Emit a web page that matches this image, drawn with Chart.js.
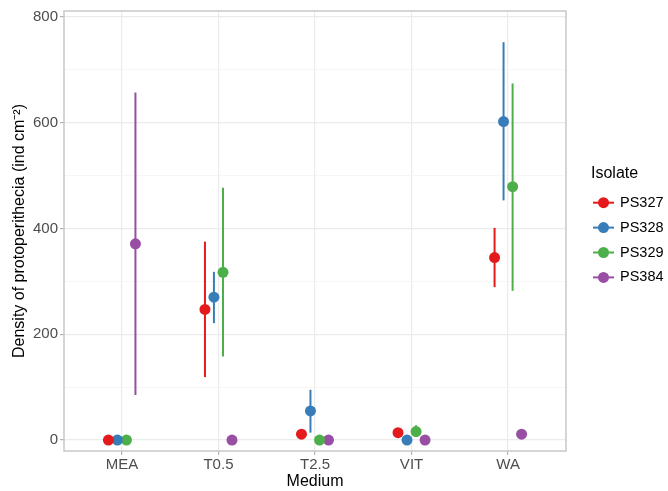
<!DOCTYPE html>
<html lang="en">
<head>
    <meta charset="UTF-8">
    <title>Protoperithecia density</title>
    <script src="https://cdn.jsdelivr.net/npm/chart.js@4.4.1/dist/chart.umd.min.js"></script>
    <style>
        html, body { margin: 0; padding: 0; background: #ffffff; }
        #wrap { width: 668px; height: 491px; }
    </style>
</head>
<body>
    <div id="wrap"><canvas id="densityChart" width="668" height="491"></canvas></div>

    <script>
        // categories on the x axis
        const media = ['MEA', 'T0.5', 'T2.5', 'VIT', 'WA'];
        const yTicks = [0, 200, 400, 600, 800];

        // series: mean, lower and upper end of the interval (null = no bar)
        const ps327Mean = [0, 247, 11, 14, 345];
        const ps327Low  = [null, 119, null, null, 289];
        const ps327High = [null, 375, null, null, 401];

        const ps328Mean = [0, 270, 55, 0, 602];
        const ps328Low  = [null, 221, 14, null, 453];
        const ps328High = [null, 318, 95, null, 752];

        const ps329Mean = [0, 317, 0, 16, 479];
        const ps329Low  = [null, 158, null, 6, 282];
        const ps329High = [null, 477, null, 28, 674];

        const ps384Mean = [371, 0, 0, 0, 11];
        const ps384Low  = [85, null, null, null, null];
        const ps384High = [657, null, null, null, null];

        const isolates = ['PS327', 'PS328', 'PS329', 'PS384'];
        const colors = ['#E41A1C', '#377EB8', '#4DAF4A', '#984EA3'];
        const dodge = [-0.14, -0.047, 0.047, 0.14];

        const font = "'Liberation Sans', Arial, sans-serif";

        function makeSet(i, mean, low, high) {
            return {
                label: isolates[i],
                data: mean.map((v, j) => ({ x: j + 1 + dodge[i], y: v, lo: low[j], hi: high[j] })),
                backgroundColor: colors[i],
                borderColor: colors[i],
                pointRadius: 5.5,
                pointBorderWidth: 0,
                showLine: false
            };
        }

        // vertical interval lines drawn under the points
        const errorBars = {
            id: 'errorBars',
            beforeDatasetsDraw(chart) {
                const ctx = chart.ctx;
                const xs = chart.scales.x, ys = chart.scales.y;
                ctx.save();
                ctx.lineWidth = 2;
                chart.data.datasets.forEach(ds => {
                    ctx.strokeStyle = ds.borderColor;
                    ds.data.forEach(p => {
                        if (p.lo == null || p.hi == null) return;
                        const x = xs.getPixelForValue(p.x);
                        ctx.beginPath();
                        ctx.moveTo(x, ys.getPixelForValue(p.lo));
                        ctx.lineTo(x, ys.getPixelForValue(p.hi));
                        ctx.stroke();
                    });
                });
                ctx.restore();
            }
        };

        // panel border, axis titles and the legend
        const decorations = {
            id: 'decorations',
            afterDraw(chart) {
                const ctx = chart.ctx;
                const a = chart.chartArea;
                ctx.save();
                ctx.strokeStyle = '#c8c8c8';
                ctx.lineWidth = 1.5;
                ctx.strokeRect(a.left, a.top, a.right - a.left, a.bottom - a.top);

                ctx.fillStyle = '#000000';
                ctx.font = '16px ' + font;
                ctx.textAlign = 'center';
                ctx.textBaseline = 'middle';
                ctx.fillText('Medium', (a.left + a.right) / 2, 482);

                ctx.save();
                ctx.translate(20, (a.top + a.bottom) / 2);
                ctx.rotate(-Math.PI / 2);
                ctx.fillText('Density of protoperithecia (ind cm\u207B\u00B2)', 0, 0);
                ctx.restore();

                // legend
                ctx.textAlign = 'left';
                ctx.font = '16px ' + font;
                ctx.fillText('Isolate', 591, 174);
                ctx.font = '14.5px ' + font;
                isolates.forEach((name, i) => {
                    const y = 202.7 + i * 24.9;
                    ctx.strokeStyle = colors[i];
                    ctx.lineWidth = 2;
                    ctx.beginPath();
                    ctx.moveTo(593, y);
                    ctx.lineTo(614, y);
                    ctx.stroke();
                    ctx.fillStyle = colors[i];
                    ctx.beginPath();
                    ctx.arc(603.5, y, 5.5, 0, Math.PI * 2);
                    ctx.fill();
                    ctx.fillStyle = '#000000';
                    ctx.fillText(name, 620, y);
                });
                ctx.restore();
            }
        };

        const ctx = document.getElementById('densityChart').getContext('2d');
        new Chart(ctx, {
            type: 'scatter',
            data: {
                datasets: [
                    makeSet(0, ps327Mean, ps327Low, ps327High),
                    makeSet(1, ps328Mean, ps328Low, ps328High),
                    makeSet(2, ps329Mean, ps329Low, ps329High),
                    makeSet(3, ps384Mean, ps384Low, ps384High)
                ]
            },
            options: {
                responsive: false,
                animation: false,
                layout: { padding: { top: 9, right: 102, left: 0, bottom: 0 } },
                plugins: {
                    legend: { display: false },
                    tooltip: { enabled: false }
                },
                scales: {
                    x: {
                        type: 'linear',
                        min: 0.4,
                        max: 5.6,
                        afterFit: s => { s.height = 40; },
                        afterBuildTicks: s => { s.ticks = media.map((m, i) => ({ value: i + 1 })); },
                        ticks: {
                            callback: v => media[v - 1],
                            color: '#4d4d4d',
                            font: { family: font, size: 15 },
                            padding: 1
                        },
                        grid: { color: '#ebebeb', lineWidth: 1.2, tickLength: 4, tickColor: '#b3b3b3' },
                        border: { display: false }
                    },
                    y: {
                        min: -20.7,
                        max: 811,
                        afterFit: s => { s.width = 64; },
                        afterBuildTicks: s => {
                            const t = [];
                            for (let v = 0; v <= 800; v += 100) t.push({ value: v });
                            s.ticks = t;
                        },
                        ticks: {
                            callback: v => (yTicks.includes(v) ? String(v) : ''),
                            color: '#4d4d4d',
                            font: { family: font, size: 15 },
                            padding: 2
                        },
                        grid: {
                            color: c => (yTicks.includes(c.tick.value) ? '#ebebeb' : '#f4f4f4'),
                            lineWidth: c => (yTicks.includes(c.tick.value) ? 1.2 : 0.8),
                            tickLength: 4,
                            tickColor: c => (yTicks.includes(c.tick.value) ? '#b3b3b3' : 'rgba(0,0,0,0)')
                        },
                        border: { display: false }
                    }
                }
            },
            plugins: [errorBars, decorations]
        });
    </script>
</body>
</html>
